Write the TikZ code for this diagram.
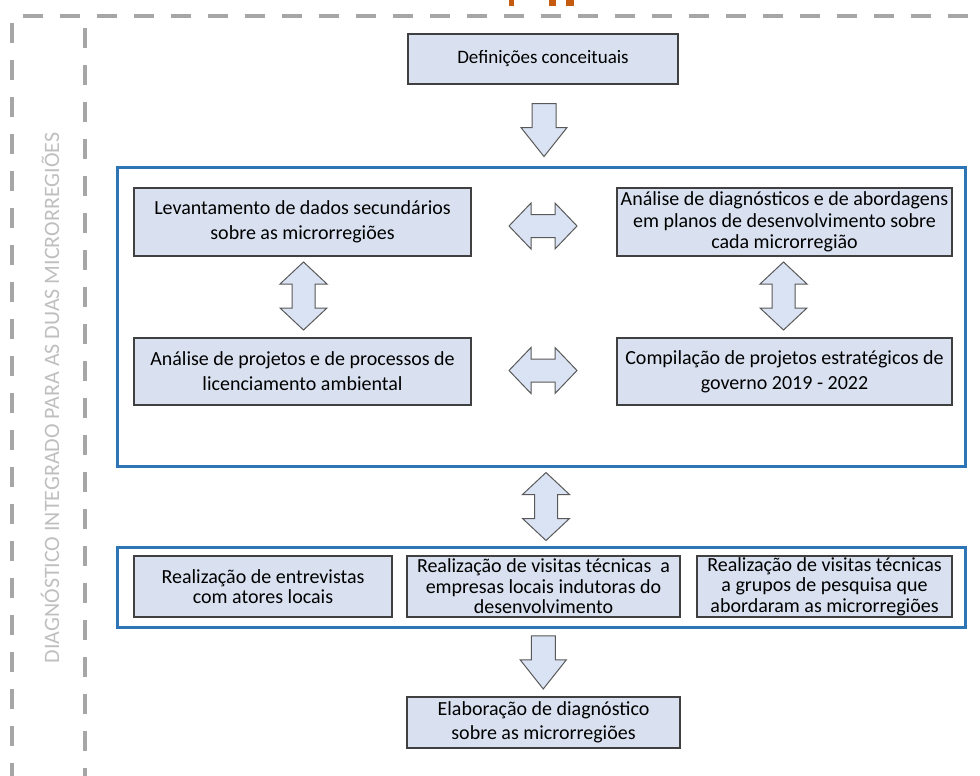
\documentclass[tikz,border=0pt]{standalone}
\usepackage{fontspec}
\setmainfont{Carlito}
\usetikzlibrary{calc}
\definecolor{boxfill}{HTML}{D9E1F0}
\definecolor{boxline}{HTML}{404040}
\definecolor{arrfill}{HTML}{DAE3F3}
\definecolor{arrline}{HTML}{595959}
\definecolor{frameblue}{HTML}{2E75B6}
\definecolor{dashgray}{HTML}{A6A6A6}
\definecolor{sidegray}{HTML}{BFBFBF}
\definecolor{cutorange}{HTML}{C55A11}
\tikzset{
  box/.style={draw=boxline, line width=1.2pt, fill=boxfill, inner sep=0pt, align=center,
    font=\fontsize{20}{25}\selectfont},
  tightbox/.style={box, font=\fontsize{20}{21.5}\selectfont},
  smallbox/.style={box, font=\fontsize{20}{20.5}\selectfont},
  frame/.style={draw=frameblue, line width=3pt, inner sep=0pt},
  dashline/.style={draw=dashgray, line width=4pt, dash pattern=on 20pt off 17pt},
  blockarrow/.style={draw=arrline, line width=1pt, fill=arrfill, line join=miter},
  downarr/.pic={\path[blockarrow] (-12,-26.5) -- (12,-26.5) -- (12,-2.5) -- (23,-2.5) -- (0,26.5) -- (-23,-2.5) -- (-12,-2.5) -- cycle;},
  hdouble/.pic={\path[blockarrow] (-34,0) -- (-12,-23) -- (-12,-11.5) -- (12,-11.5) -- (12,-23) -- (34,0) -- (12,23) -- (12,11.5) -- (-12,11.5) -- (-12,23) -- cycle;},
  vdouble/.pic={\path[blockarrow] (0,-34) -- (23.5,-12) -- (11.5,-12) -- (11.5,12) -- (23.5,12) -- (0,34) -- (-23.5,12) -- (-11.5,12) -- (-11.5,-12) -- (-23.5,-12) -- cycle;}
}
\begin{document}
\begin{tikzpicture}[x=1pt,y=-1pt]
\useasboundingbox (0,0) rectangle (980,776);
% cut-off heading fragment
\fill[cutorange] (509,0) rectangle (514,6);
\fill[cutorange] (549,0) rectangle (556,6);
\fill[cutorange] (566,0) rectangle (574,6);
% dashed borders
\draw[dashline] (23,16) -- (980,16);
\draw[dashline] (12,23) -- (12,776);
\draw[dashline] (85,28) -- (85,776);
% side label
\node[rotate=90, text=sidegray, font=\fontsize{22}{24}\selectfont, inner sep=0pt] (side) at (50,398)
  {DIAGNÓSTICO INTEGRADO PARA AS DUAS MICRORREGIÕES};
% frames
\node[frame, minimum width=848pt, minimum height=299pt] (f1) at (541,316.5) {};
\node[frame, minimum width=848pt, minimum height=80pt] (f2) at (541,587) {};
% boxes
\node[box, font=\fontsize{19}{22}\selectfont, minimum width=270pt, minimum height=50pt] (def) at (543,59) {Definições conceituais};
\node[box, minimum width=337pt, minimum height=68pt] (lev) at (302.5,222) {Levantamento de dados secundários\\sobre as microrregiões};
\node[tightbox, minimum width=335pt, minimum height=68pt] (diag) at (784.5,222) {Análise de diagnósticos e de abordagens\\em planos de desenvolvimento sobre\\cada microrregião};
\node[box, minimum width=337pt, minimum height=67pt] (proj) at (302.5,371.5) {Análise de projetos e de processos de\\licenciamento ambiental};
\node[box, minimum width=335pt, minimum height=67pt] (comp) at (784.5,371.5) {Compilação de projetos estratégicos de\\governo 2019 - 2022};
\node[smallbox, minimum width=258pt, minimum height=61pt] (r1) at (263,586.5) {Realização de entrevistas\\com atores locais};
\node[smallbox, minimum width=273pt, minimum height=61pt] (r2) at (543.5,586.5) {Realização de visitas técnicas~~a\\empresas locais indutoras do\\desenvolvimento};
\node[smallbox, minimum width=255pt, minimum height=61pt] (r3) at (824.5,586.5) {Realização de visitas técnicas\\a grupos de pesquisa que\\abordaram as microrregiões};
\node[box, font=\fontsize{20}{24}\selectfont, minimum width=273pt, minimum height=51pt] (elab) at (543.5,722.5) {Elaboração de diagnóstico\\sobre as microrregiões};
% block arrows
\pic at ($(def.south)!0.5!(f1.north)+(2,5)$) {downarr};
\pic at ($(lev.east)!0.5!(diag.west)+(-1,4)$) {hdouble};
\pic at ($(proj.east)!0.5!(comp.west)+(-1,-1)$) {hdouble};
\pic at ($(lev.south)!0.5!(proj.north)+(1,-1)$) {vdouble};
\pic at ($(diag.south)!0.5!(comp.north)+(-1,-1)$) {vdouble};
\pic at ($(f1.south)!0.5!(f2.north)+(5,0)$) {vdouble};
\pic at ($(f2.south)!0.5!(elab.north)+(1,0)$) {downarr};
\end{tikzpicture}
\end{document}
